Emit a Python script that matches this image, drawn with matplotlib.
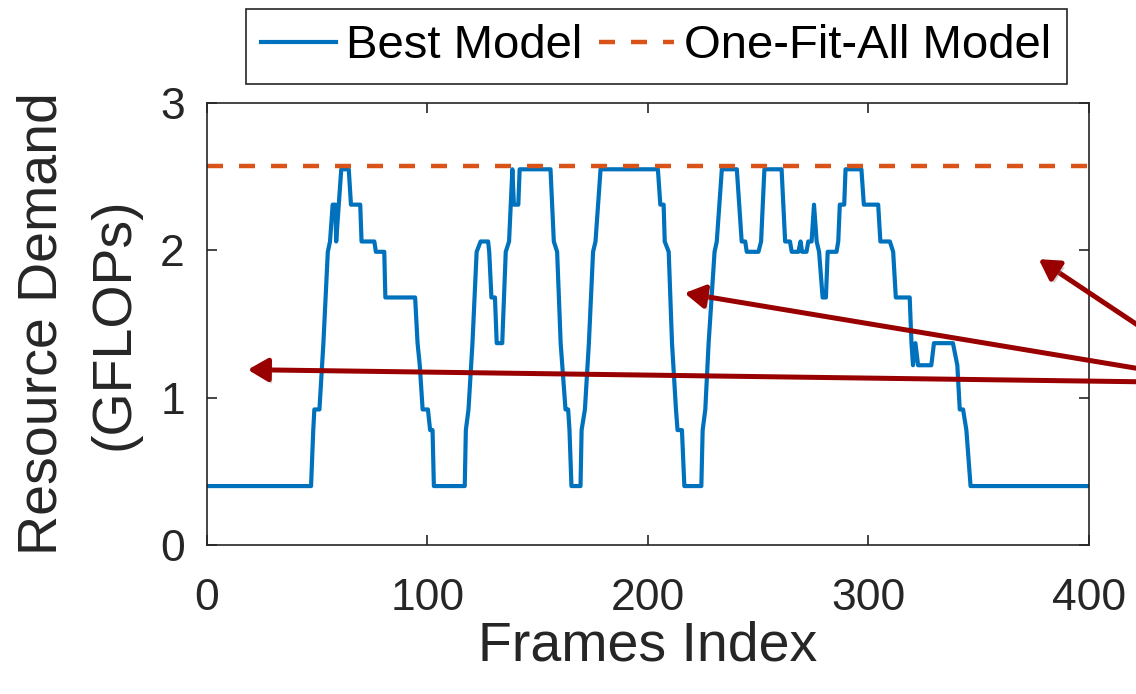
import numpy as np
import matplotlib
matplotlib.use("Agg")
import matplotlib.pyplot as plt
import matplotlib.patheffects as pe

plt.rcParams['font.family'] = ['Liberation Sans', 'DejaVu Sans']

# best model per frame (breakpoints)
frames = [0, 47.2, 48.2, 48.7, 51, 52.8, 54.8, 55.8, 57.0, 58.2, 58.6, 60.9, 64.3, 65.3,
          69.5, 70.1, 75.9, 76.6, 80.4, 80.9, 94.4, 95.5, 96.5, 97.8, 100.2, 101.2, 102.3,
          102.9, 116.9, 117.4, 118.6, 120.4, 122.3, 124.1, 127.5, 128.0, 129.0, 130.6, 131.4,
          133.9, 135.5, 137.0, 138.5, 139.2, 141.2, 141.8, 155.8, 157.3, 158.8, 160.4, 162.6,
          163.8, 164.4, 165.3, 169.4, 169.9, 171.4, 173.2, 175.1, 176.2, 178.5, 204.5, 205.6,
          207.1, 207.6, 209.4, 210.9, 212.7, 213.4, 215.4, 216.5, 224.2, 224.8, 226.0, 227.5,
          230.2, 231.2, 233.5, 240.3, 242.5, 244.1, 244.8, 250.1, 251.3, 252.8, 260.6, 262.2,
          264.4, 265.2, 268.2, 269.2, 269.9, 271.9, 272.7, 274.2, 275.3, 276.5, 277.6, 279.2,
          280.7, 281.5, 285.5, 286.3, 287.0, 289.0, 289.6, 296.8, 297.9, 304.4, 305.4, 309.7,
          311.2, 312.4, 318.7, 319.5, 320.2, 321.3, 322.5, 328.5, 329.7, 338.3, 340.3, 341.4,
          342.9, 344.4, 346.3, 400]
best = [0.40, 0.40, 0.78, 0.92, 0.92, 1.37, 1.99, 2.06, 2.31, 2.31, 2.06, 2.55, 2.55, 2.31,
        2.31, 2.06, 2.06, 1.99, 1.99, 1.68, 1.68, 1.37, 1.22, 0.92, 0.92, 0.78, 0.78,
        0.40, 0.40, 0.78, 0.92, 1.37, 1.99, 2.06, 2.06, 1.99, 1.68, 1.68, 1.37,
        1.37, 1.99, 2.06, 2.55, 2.31, 2.31, 2.55, 2.55, 2.06, 1.99, 1.37, 0.92,
        0.92, 0.78, 0.40, 0.40, 0.78, 0.92, 1.37, 1.99, 2.06, 2.55, 2.55, 2.31,
        2.31, 2.06, 1.99, 1.37, 0.92, 0.78, 0.78, 0.40, 0.40, 0.78, 0.92, 1.37,
        1.99, 2.06, 2.55, 2.55, 2.06, 2.06, 1.99, 1.99, 2.06, 2.55, 2.55, 2.06,
        2.06, 1.99, 1.99, 2.06, 1.99, 1.99, 2.06, 2.06, 2.31, 2.06, 1.99, 1.68,
        1.68, 1.99, 1.99, 2.06, 2.31, 2.31, 2.55, 2.55, 2.31, 2.31, 2.06, 2.06,
        1.99, 1.68, 1.68, 1.37, 1.22, 1.37, 1.22, 1.22, 1.37, 1.37, 1.22, 0.92,
        0.92, 0.78, 0.40, 0.40]
one_fit_all = 2.57

# arrow tips and common tail (data coords)
arrow_tips = [(18.5, 1.19), (216.6, 1.71), (377.2, 1.94)]
arrow_tail = (461.5, 1.10)

fig = plt.figure(figsize=(11.36, 6.94), dpi=100)
ax = fig.add_axes([0.1822, 0.2147, 0.7764, 0.6369])

ax.plot(frames, best, color='#0072BD', lw=3.0, label='Best Model')
ax.plot([0, 400], [one_fit_all, one_fit_all], color='#D95319', lw=3.2,
        ls=(0, (3.6, 3.6)), label='One-Fit-All Model')

for tip in arrow_tips:
    ann = ax.annotate('', xy=tip, xytext=arrow_tail, annotation_clip=False,
                      arrowprops=dict(arrowstyle='-|>,head_length=0.6,head_width=0.35',
                                      color='#990000', lw=3.6, mutation_scale=20,
                                      shrinkA=0, shrinkB=0))
    ann.arrow_patch.set_path_effects([
        pe.SimplePatchShadow(offset=(2, -3), shadow_rgbFace='gray', alpha=0.35),
        pe.Normal()])

ax.set_xlim(0, 400)
ax.set_ylim(0, 3)
ax.set_xticks([0, 100, 200, 300, 400])
ax.set_yticks([0, 1, 2, 3])
ax.tick_params(direction='in', length=7, width=1.2, top=True, right=True,
               labelsize=32, colors='#262626', labelcolor='#262626')
ax.tick_params(axis='x', pad=24)
ax.tick_params(axis='y', pad=16)
for s in ax.spines.values():
    s.set_color('#262626')
    s.set_linewidth(1.2)

ax.set_xlabel('Frames Index', fontsize=40, color='#262626', labelpad=1)
ax.set_ylabel('Resource Demand\n(GFLOPs)', fontsize=40, color='#262626', linespacing=1.5)
ax.yaxis.set_label_coords(-0.075, 0.5)

leg = ax.legend(loc='center', bbox_to_anchor=(0.5775, 0.933), bbox_transform=fig.transFigure,
                ncol=2, fontsize=34, handlelength=1.59, handletextpad=0.22,
                columnspacing=0.35, borderpad=0.32, fancybox=False, framealpha=1)
leg.get_frame().set_edgecolor('#262626')
leg.get_frame().set_linewidth(1.2)

fig.savefig('out.png', dpi=100)
